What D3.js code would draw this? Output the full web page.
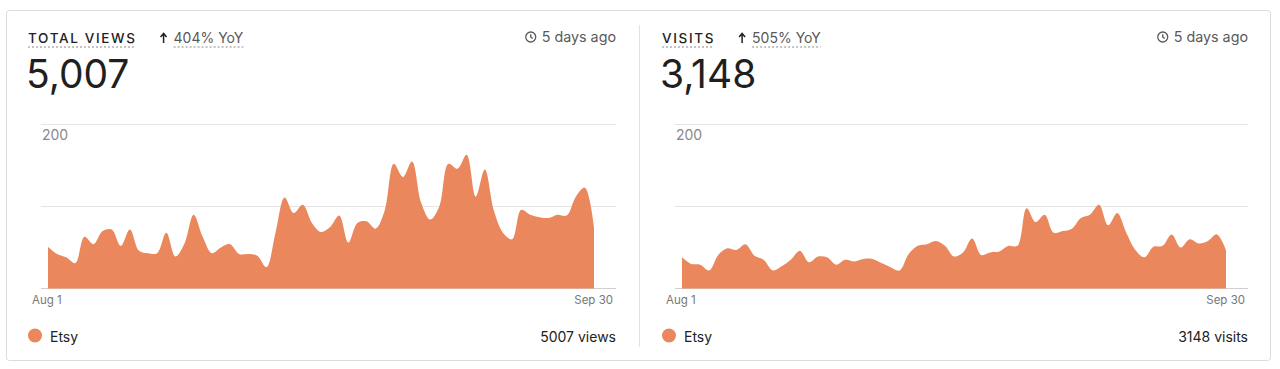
<!DOCTYPE html>
<html>
<head>
  <meta charset="UTF-8">
  <title>Views and visits</title>
  <script src="https://cdn.jsdelivr.net/npm/d3@7"></script>
  <style>
    body {
      margin: 0;
      background-color: #fff;
      font-family: Inter, "Noto Sans", sans-serif;
    }
  </style>
</head>
<body>
  <svg></svg>
</body>
<script>
  let width = 1280,
    height = 369;

  // Aug 1 .. Sep 30, one point a day
  const dates = d3.timeDay.range(new Date(2023, 7, 1), new Date(2023, 9, 1));

  const viewsSeries = [
    51, 42, 38, 31, 63, 54, 70, 72, 52, 72,
    46, 43, 43, 68, 39, 55, 90, 63, 43, 50,
    54, 42, 42, 40, 26, 68, 111, 92, 102, 80,
    69, 75, 89, 56, 80, 82, 73, 95, 152, 136,
    155, 105, 84, 100, 152, 146, 163, 112, 145, 95,
    68, 60, 96, 90, 87, 86, 90, 89, 112, 123,
    75
  ];

  const visitsSeries = [
    38, 30, 29, 22, 41, 49, 47, 54, 40, 35,
    22, 27, 35, 46, 32, 39, 38, 29, 35, 33,
    36, 36, 31, 26, 22, 42, 52, 54, 58, 52,
    39, 44, 61, 41, 44, 45, 52, 52, 98, 81,
    90, 68, 70, 73, 86, 90, 102, 77, 92, 68,
    47, 38, 51, 52, 66, 50, 60, 55, 58, 66,
    47
  ];

  const titles = ["TOTAL VIEWS", "VISITS"];
  const totals = [5007, 3148];
  const yoyLabels = ["404% YoY", "505% YoY"];
  const units = ["views", "visits"];
  const updatedLabel = "5 days ago";
  const yTicks = [0, 100, 200];
  const xLabels = ["Aug 1", "Sep 30"];
  const legendLabel = "Etsy";

  const color = "#eb875c";

  let svg = d3.select("svg")
    .attr("width", width)
    .attr("height", height)
    .attr("viewBox", "0 0 " + width + " " + height);

  // card
  svg.append("rect")
    .attr("x", 6.5).attr("y", 10.5)
    .attr("width", 1264).attr("height", 350)
    .attr("rx", 3)
    .attr("fill", "#fff")
    .attr("stroke", "#dcdcdc");

  svg.append("line")
    .attr("x1", 639.5).attr("x2", 639.5)
    .attr("y1", 25).attr("y2", 347)
    .attr("stroke", "#e2e2e2");

  let panels = titles.map((t, i) => ({
    title: t,
    total: totals[i],
    yoy: yoyLabels[i],
    unit: units[i],
    values: i == 0 ? viewsSeries : visitsSeries,
    right: i == 0 ? 616 : 614
  }));

  panels.forEach((p, i) => {
    let g = svg.append("g").attr("transform", "translate(" + (i * 634) + ",0)");

    // header
    let title = g.append("text")
      .attr("x", 28).attr("y", 43)
      .attr("fill", "#222")
      .attr("font-size", 13.5)
      .attr("font-weight", 500)
      .attr("letter-spacing", 1.65)
      .text(p.title);
    let tw = title.node().getComputedTextLength();
    g.append("line")
      .attr("x1", 28).attr("x2", 28 + tw - 1.5)
      .attr("y1", 47).attr("y2", 47)
      .attr("stroke", "#8a8a8a")
      .attr("stroke-dasharray", "2,2");

    let ax = 28 + tw + 24;
    g.append("path")
      .attr("d", "M" + (ax + 3) + ",43V34M" + ax + ",37L" + (ax + 3) + ",33.5L" + (ax + 6) + ",37")
      .attr("fill", "none")
      .attr("stroke", "#222")
      .attr("stroke-width", 1.5);
    let yoy = g.append("text")
      .attr("x", ax + 13).attr("y", 43)
      .attr("fill", "#595959")
      .attr("font-size", 14)
      .text(p.yoy);
    let yw = yoy.node().getComputedTextLength();
    g.append("line")
      .attr("x1", ax + 13).attr("x2", ax + 13 + yw)
      .attr("y1", 47).attr("y2", 47)
      .attr("stroke", "#8a8a8a")
      .attr("stroke-dasharray", "2,2");

    let upd = g.append("text")
      .attr("x", p.right).attr("y", 42)
      .attr("text-anchor", "end")
      .attr("fill", "#595959")
      .attr("font-size", 14.3)
      .text(updatedLabel);
    let uw = upd.node().getComputedTextLength();
    // clock icon
    let clock = g.append("g").attr("transform", "translate(" + (p.right - uw - 11) + ",37)")
      .attr("fill", "none").attr("stroke", "#595959").attr("stroke-width", 1.3);
    clock.append("circle").attr("r", 5);
    clock.append("path").attr("d", "M0,-2.8V0L2,1.6");

    g.append("text")
      .attr("x", 26).attr("y", 88)
      .attr("fill", "#1f1f1f")
      .attr("font-size", 39)
      .attr("font-weight", 400)
      .text(d3.format(",")(p.total));

    // chart
    let x = d3.scaleTime()
      .domain(d3.extent(dates))
      .range([48, p.right - 22]);
    let y = d3.scaleLinear()
      .domain([0, 200])
      .range([288.5, 124.5]);

    g.append("g")
      .selectAll("line")
      .data(yTicks)
      .enter()
      .append("line")
      .attr("x1", 41).attr("x2", p.right)
      .attr("y1", d => y(d)).attr("y2", d => y(d))
      .attr("stroke", d => d == 0 ? "#d0d0d0" : "#e4e4e4")
      .attr("stroke-width", 1);

    let area = d3.area()
      .x((d, j) => x(dates[j]))
      .y0(y(0))
      .y1(d => y(d))
      .curve(d3.curveCatmullRom.alpha(0.5));

    g.append("path")
      .datum(p.values)
      .attr("d", area)
      .attr("fill", color);

    g.append("text")
      .attr("x", 42).attr("y", y(200) + 15)
      .attr("fill", "#888")
      .attr("font-size", 14)
      .text(yTicks[2]);

    g.append("text")
      .attr("x", 32).attr("y", 304)
      .attr("fill", "#777")
      .attr("font-size", 11.5)
      .text(xLabels[0]);
    g.append("text")
      .attr("x", p.right - 3).attr("y", 304)
      .attr("text-anchor", "end")
      .attr("fill", "#777")
      .attr("font-size", 11.5)
      .text(xLabels[1]);

    // legend
    g.append("circle")
      .attr("cx", 35).attr("cy", 335.5)
      .attr("r", 7)
      .attr("fill", color);
    g.append("text")
      .attr("x", 50).attr("y", 342)
      .attr("fill", "#222")
      .attr("font-size", 14)
      .text(legendLabel);
    g.append("text")
      .attr("x", p.right).attr("y", 342)
      .attr("text-anchor", "end")
      .attr("fill", "#222")
      .attr("font-size", 14)
      .text(p.total + " " + p.unit);
  });
</script>
</html>
